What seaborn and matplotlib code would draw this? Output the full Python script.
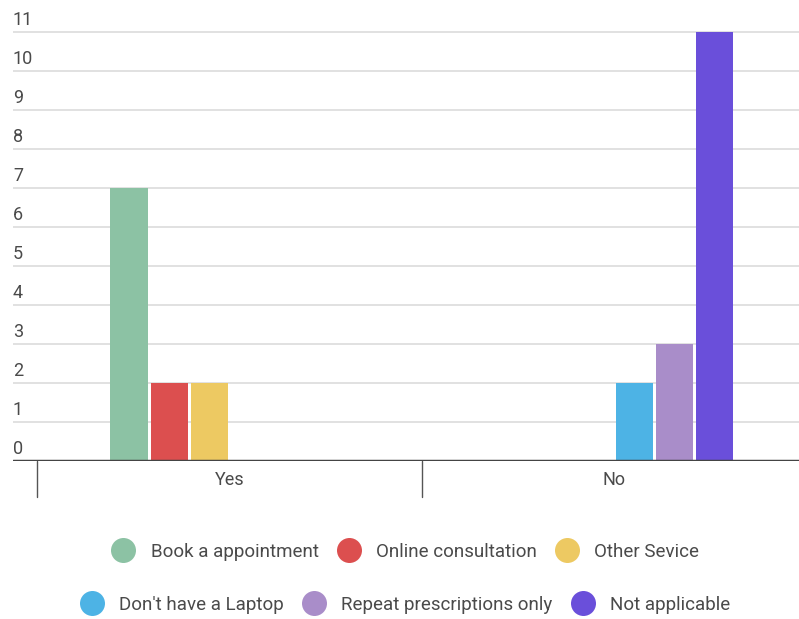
import matplotlib
matplotlib.use("Agg")
import matplotlib.pyplot as plt
import matplotlib.transforms as mtransforms
from matplotlib.lines import Line2D
import seaborn as sns
import pandas as pd

categories = ["Yes", "No"]
series = ["Book a appointment", "Online consultation", "Other Sevice",
          "Don't have a Laptop", "Repeat prescriptions only", "Not applicable"]
values_yes = [7, 2, 2, 0, 0, 0]
values_no = [0, 0, 0, 2, 3, 11]
colors = ["#8CC2A4", "#DC4F4F", "#EDC962", "#4DB3E5", "#A98DC9", "#6A4FDA"]
yticks = list(range(0, 12))

sns.set_theme(style="white")
plt.rcParams["font.family"] = ["Roboto", "DejaVu Sans"]

rows = []
for s, vy, vn in zip(series, values_yes, values_no):
    rows.append({"cat": "Yes", "series": s, "value": vy})
    rows.append({"cat": "No", "series": s, "value": vn})
df = pd.DataFrame(rows)

fig = plt.figure(figsize=(7.99, 6.19), dpi=100)
W, H = 799, 619
left_px, right_px, base_px, top_px = 13, 800, 461, 0
ax = fig.add_axes([left_px / W, (H - base_px) / H, (right_px - left_px) / W, (base_px - top_px) / H])

sns.barplot(data=df, x="cat", y="value", hue="series", order=categories,
            hue_order=series, palette=colors, width=0.625, gap=0.07,
            saturation=1, linewidth=0, legend=False, ax=ax, errorbar=None)

ax.set_xlim(-0.562, 1.482)
ax.set_ylim(0, 11 + 32 / 39)
ax.set_xlabel("")
ax.set_ylabel("")
for sp in ax.spines.values():
    sp.set_visible(False)

ax.set_yticks(yticks)
ax.yaxis.grid(True, color="#DCDCDC", linewidth=1.2)
ax.set_axisbelow(True)
ax.tick_params(axis="y", length=0, pad=0, labelsize=13, labelcolor="#4a4a4a")
offset = mtransforms.ScaledTranslation(0, 14 / 100, fig.dpi_scale_trans)
for lab in ax.get_yticklabels():
    lab.set_horizontalalignment("left")
    lab.set_transform(lab.get_transform() + offset)

ax.tick_params(axis="x", length=0, pad=7, labelsize=13, labelcolor="#4a4a4a")

ax.axhline(0, color="#444444", linewidth=2.5, zorder=5)
trans = mtransforms.blended_transform_factory(ax.transData, ax.transAxes)
for xs in [-0.5, 0.5, 1.5]:
    ax.add_line(Line2D([xs, xs], [0, -36 / 461], transform=trans, color="#555555",
                       linewidth=1, clip_on=False))

def make_legend(idx, y):
    handles = [Line2D([], [], marker="o", linestyle="none", markersize=18,
                      markerfacecolor=colors[i], markeredgewidth=0) for i in idx]
    labels = [series[i] for i in idx]
    leg = fig.legend(handles, labels, loc="center", bbox_to_anchor=(405 / W, 1 - y / H),
                     ncol=3, frameon=False, fontsize=13.5, handletextpad=0.8,
                     columnspacing=0.95, handlelength=1.3, labelcolor="#4a4a4a")
    return leg

make_legend([0, 1, 2], 552)
make_legend([3, 4, 5], 605)

fig.savefig("out.png", dpi=100)
